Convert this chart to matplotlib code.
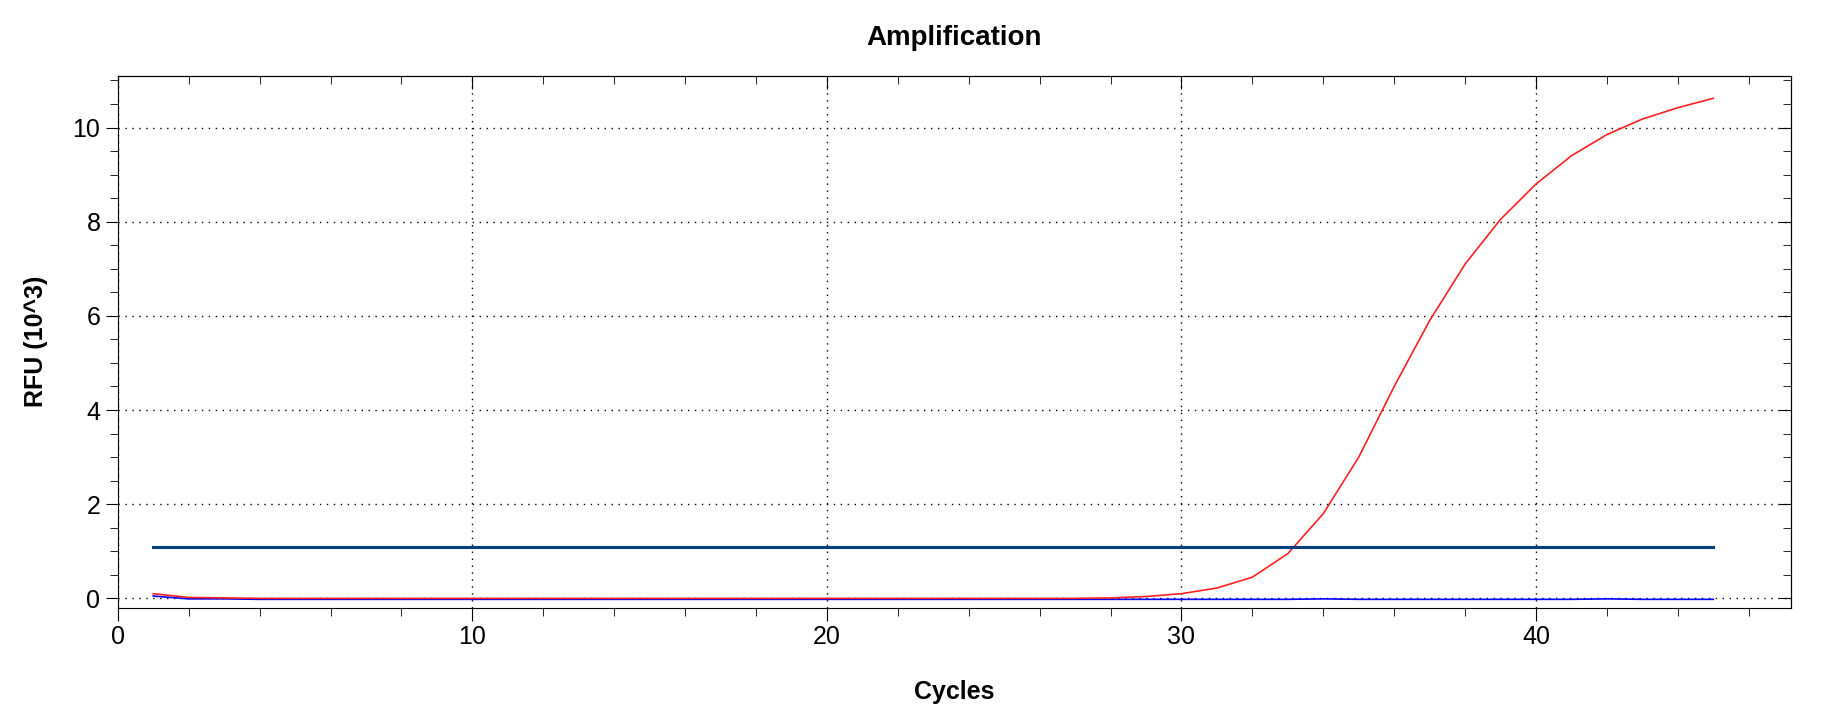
import matplotlib
matplotlib.use("Agg")
import matplotlib.pyplot as plt
from matplotlib.ticker import MultipleLocator

plt.rcParams["font.family"] = "Liberation Sans"

cycles = list(range(1, 46))
red_rfu = [0.10, 0.02, 0.01, 0.00, 0.00, 0.00, 0.00, 0.00, 0.00, 0.00,
           0.00, 0.00, 0.00, 0.00, 0.00, 0.00, 0.00, 0.00, 0.00, 0.00,
           0.00, 0.00, 0.00, 0.00, 0.00, 0.00, 0.00, 0.01, 0.04, 0.10,
           0.22, 0.45, 0.95, 1.80, 3.00, 4.50, 5.90, 7.10, 8.05, 8.80,
           9.40, 9.85, 10.18, 10.42, 10.62]
blue_rfu = [0.05, -0.01, -0.01, -0.02, -0.02, -0.02, -0.02, -0.02, -0.02, -0.02,
            -0.02, -0.02, -0.02, -0.02, -0.02, -0.02, -0.02, -0.02, -0.02, -0.02,
            -0.02, -0.02, -0.02, -0.02, -0.02, -0.02, -0.02, -0.02, -0.02, -0.02,
            -0.02, -0.02, -0.02, -0.01, -0.02, -0.02, -0.02, -0.02, -0.02, -0.02,
            -0.02, -0.01, -0.02, -0.02, -0.02]
threshold = 1.1

fig = plt.figure(figsize=(18.26, 7.21), dpi=100)
ax = fig.add_axes([0.0645, 0.157, 0.9165, 0.738])
ax.plot(cycles, blue_rfu, color="#0000ff", lw=1.2)
ax.plot(cycles, red_rfu, color="#ff2020", lw=1.2)
ax.plot([cycles[0], cycles[-1]], [threshold, threshold], color="#003f7f", lw=2.2)

ax.set_xlim(0, 47.2)
ax.set_ylim(-0.2, 11.1)
ax.xaxis.set_major_locator(MultipleLocator(10))
ax.xaxis.set_minor_locator(MultipleLocator(2))
ax.yaxis.set_major_locator(MultipleLocator(2))
ax.yaxis.set_minor_locator(MultipleLocator(0.5))
ax.grid(True, which="major", color="black", linestyle=(0, (1, 4)), lw=1)
ax.tick_params(which="both", direction="out", labelsize=18, top=False, right=False)
ax.tick_params(which="major", length=9)
ax.tick_params(which="minor", length=6)

top = ax.secondary_xaxis("top")
top.xaxis.set_major_locator(MultipleLocator(10))
top.xaxis.set_minor_locator(MultipleLocator(2))
top.tick_params(which="both", direction="in", labeltop=False)
right = ax.secondary_yaxis("right")
right.yaxis.set_major_locator(MultipleLocator(2))
right.yaxis.set_minor_locator(MultipleLocator(0.5))
right.tick_params(which="both", direction="in", labelright=False)
for sec in (top, right):
    sec.tick_params(which="major", length=9)
    sec.tick_params(which="minor", length=6)

ax.set_title("Amplification", fontsize=20, fontweight="bold", pad=22)
ax.set_xlabel("Cycles", fontsize=18, fontweight="bold", labelpad=22)
ax.set_ylabel("RFU (10^3)", fontsize=18, fontweight="bold", labelpad=18)
fig.savefig("out.png", dpi=100)
